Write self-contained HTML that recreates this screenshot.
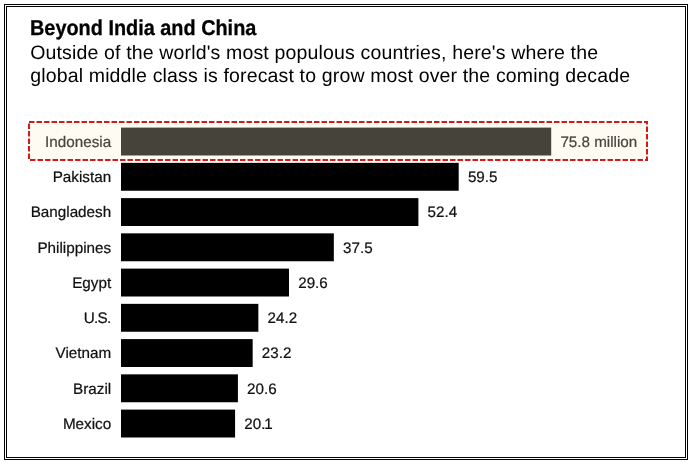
<!DOCTYPE html>
<html lang="en"><head><meta charset="utf-8"><title>Beyond India and China</title>
<style>
html,body{margin:0;padding:0;background:#fff;}
body{text-rendering:geometricPrecision;width:688px;height:462px;position:relative;overflow:hidden;font-family:"Liberation Sans",Arial,Helvetica,sans-serif;color:#000;}
.f1{position:absolute;left:4px;top:4px;width:684px;height:456px;box-sizing:border-box;border:1px solid #000;}
.f2{position:absolute;left:6px;top:6px;width:680px;height:452px;box-sizing:border-box;border:1px solid #000;}
h1{position:absolute;margin:0;left:29.8px;top:16.0px;font-size:21.4px;line-height:24px;font-weight:bold;letter-spacing:0;white-space:nowrap;transform:scaleX(0.929);transform-origin:0 0;-webkit-text-stroke:0.3px #000;}
p.sub{position:absolute;margin:0;left:30.2px;top:41.8px;font-size:19.5px;line-height:23.4px;letter-spacing:0.155px;white-space:nowrap;}
svg{position:absolute;left:0;top:0;}
.lab{position:absolute;left:0;width:111.2px;text-align:right;font-size:15.25px;-webkit-text-stroke:0.22px currentColor;line-height:28px;height:28px;white-space:nowrap;color:#111;}
.val{position:absolute;font-size:15.2px;-webkit-text-stroke:0.22px currentColor;line-height:28px;height:28px;white-space:nowrap;color:#111;}
.hi{color:#48453e;}
</style></head><body>
<div class="f1"></div><div class="f2"></div>
<h1>Beyond India and China</h1>
<p class="sub">Outside of the world's most populous countries, here's where the<br>global middle class is forecast to grow most over the coming decade</p>
<svg width="688" height="462" viewBox="0 0 688 462">
<rect x="29" y="122" width="618" height="38" fill="#fefbf3" stroke="#cf1b1b" stroke-width="2" stroke-dasharray="5.5 2"/>
<rect x="121.0" y="127.60" width="430.20" height="27.9" fill="#46443a"/>
<rect x="121.0" y="162.85" width="337.69" height="27.9" fill="#000"/>
<rect x="121.0" y="198.10" width="297.39" height="27.9" fill="#000"/>
<rect x="121.0" y="233.35" width="212.83" height="27.9" fill="#000"/>
<rect x="121.0" y="268.60" width="167.99" height="27.9" fill="#000"/>
<rect x="121.0" y="303.85" width="137.35" height="27.9" fill="#000"/>
<rect x="121.0" y="339.10" width="131.67" height="27.9" fill="#000"/>
<rect x="121.0" y="374.35" width="116.91" height="27.9" fill="#000"/>
<rect x="121.0" y="409.60" width="114.08" height="27.9" fill="#000"/>
</svg>
<div class="lab hi" style="top:129px">Indonesia</div>
<div class="val hi" style="top:129px;left:560.40px">75.8 million</div>
<div class="lab" style="top:164px">Pakistan</div>
<div class="val" style="top:164px;left:467.89px">59.5</div>
<div class="lab" style="top:199px">Bangladesh</div>
<div class="val" style="top:199px;left:427.59px">52.4</div>
<div class="lab" style="top:235px">Philippines</div>
<div class="val" style="top:235px;left:343.03px">37.5</div>
<div class="lab" style="top:270px">Egypt</div>
<div class="val" style="top:270px;left:298.19px">29.6</div>
<div class="lab" style="top:305px"><span style="letter-spacing:-0.7px;margin-right:0.7px">U.S.</span></div>
<div class="val" style="top:305px;left:267.55px">24.2</div>
<div class="lab" style="top:340px">Vietnam</div>
<div class="val" style="top:340px;left:261.87px">23.2</div>
<div class="lab" style="top:376px">Brazil</div>
<div class="val" style="top:376px;left:247.11px">20.6</div>
<div class="lab" style="top:411px">Mexico</div>
<div class="val" style="top:411px;left:244.28px">20<span style="letter-spacing:-1.2px">.</span>1</div>
</body></html>
